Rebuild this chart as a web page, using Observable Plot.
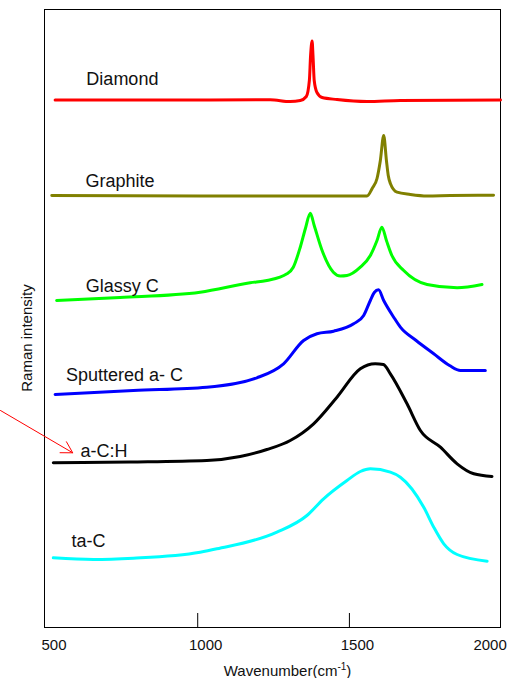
<!DOCTYPE html>
<html>
<head>
<meta charset="utf-8">
<script src="https://cdn.jsdelivr.net/npm/d3@7"></script>
<script src="https://cdn.jsdelivr.net/npm/@observablehq/plot@0.6"></script>
<style>
  html, body { margin: 0; padding: 0; background: #fff; }
  svg { font-family: "Liberation Sans", Arial, sans-serif; }
</style>
</head>
<body>
<div id="chart"></div>
<script>
// Series names and colours (top to bottom)
const names = ["Diamond", "Graphite", "Glassy C", "Sputtered a- C", "a-C:H", "ta-C"];
const colors = ["#ff0000", "#808000", "#00ff00", "#0000ff", "#000000", "#00ffff"];

// Each series: [wavenumber (cm-1), Raman intensity (arbitrary, offset for display)]
const diamond = [[530,527.5],[843,527.5],[1239,527.7],[1305,526],[1338,527],[1358,531],[1368,547],[1372,572],[1377,586.5],[1380,572],[1384,547],[1393,535],[1410,530],[1459,528],[1558,526],[1668,527],[1998,527.5]];
const graphite = [[519,432],[1008,431.5],[1558,431.5],[1575,439],[1591,449],[1602,467],[1613,492],[1622,467],[1628,452],[1635,444],[1657,435.3],[1701,433],[1756,431.5],[1833,432],[1975,432.3]];
const glassyC = [[535,327],[744,330],[1008,335.3],[1173,344.7],[1228,347],[1294,353.7],[1315,360.3],[1338,380.3],[1355,399],[1371,414.3],[1384,402],[1410,377],[1447,355.3],[1470,351.5],[1492,352],[1536,360.3],[1569,372],[1591,387],[1607,400.3],[1622,387],[1640,372],[1679,357],[1756,343],[1855,339.7],[1937,343]];
const sputtered = [[530,233],[788,237],[1030,240.3],[1195,249.7],[1283,263.7],[1349,287],[1393,293.7],[1448,296.3],[1514,303.7],[1547,312],[1569,327],[1582,335],[1596,337.7],[1613,327],[1646,310.3],[1668,300.3],[1720,287],[1778,273.7],[1830,262],[1866,257],[1948,257]];
const aCH = [[524,164.7],[777,165.5],[1030,167],[1140,171],[1228,178],[1305,187],[1382,203.7],[1459,230.3],[1536,258.7],[1585,263.7],[1612,263],[1635,253.7],[1690,223.7],[1734,197],[1800,180.3],[1855,163.7],[1910,153.7],[1970,151]];
const taC = [[524,69.7],[656,68],[788,69.3],[1008,75.3],[1063,78.7],[1261,95.3],[1360,112],[1415,128.7],[1492,147],[1536,156],[1569,158.7],[1635,155.3],[1668,150.3],[1745,120.3],[1778,100.3],[1811,83.7],[1855,73],[1954,66.3]];
const seriesValues = [diamond, graphite, glassyC, sputtered, aCH, taC];

// Curve label anchors (wavenumber, intensity at text baseline)
const labelWn = [633, 630, 631, 566, 614, 584];
const labelI = [542.5, 441, 336, 246.5, 171, 80.3];

// Tick labels
const tickLabels = [500, 1000, 1500, 2000];
const innerTicks = [1000, 1500];

// Annotation arrow (from, to)
const arrowFrom = [350, 217];
const arrowTo = [588, 174.7];

const xTitle = "Wavenumber(cm-1)";
const yTitle = "Raman intensity";

const rows = seriesValues.flatMap((s, k) => s.map(([wn, I]) => ({name: names[k], wn, I})));
const labels = names.map((n, k) => ({name: n, wn: labelWn[k], I: labelI[k]}));
const fmt = d3.format("d");

const svg = Plot.plot({
  width: 507,
  height: 678,
  marginLeft: 44,
  marginRight: 7,
  marginTop: 9,
  marginBottom: 51,
  style: {background: "#fff", fontFamily: "Liberation Sans, Arial, sans-serif"},
  x: {domain: [495, 1998], label: null},
  y: {domain: [0, 618], axis: null},
  color: {domain: names, range: colors},
  marks: [
    Plot.frame({stroke: "#000", strokeWidth: 1}),
    Plot.axisX({ticks: innerTicks, tickSize: 14, dy: -14, tickFormat: () => "", label: null}),
    Plot.axisX({ticks: tickLabels.filter(t => t < 2000), tickSize: 0, tickPadding: 12, dx: 8, fontSize: 15, tickFormat: fmt, label: null, fill: "#111"}),
    Plot.axisX({ticks: tickLabels.filter(t => t >= 2000), tickSize: 0, tickPadding: 12, dx: -11, fontSize: 15, tickFormat: fmt, label: null, fill: "#111"}),
    Plot.line(rows, {x: "wn", y: "I", z: "name", stroke: "name", strokeWidth: 3, curve: "monotone-x"}),
    Plot.text(labels, {x: "wn", y: "I", text: "name", textAnchor: "start", lineAnchor: "bottom", fontSize: 18, fill: "#111"}),
    Plot.arrow([{x1: arrowFrom[0], y1: arrowFrom[1], x2: arrowTo[0], y2: arrowTo[1]}],
      {x1: "x1", y1: "y1", x2: "x2", y2: "y2", stroke: "#ff0000", strokeWidth: 1, headLength: 19, headAngle: 60}),
    Plot.text([{t: yTitle, y: 289.5}], {text: "t", y: "y", frameAnchor: "left", textAnchor: "middle", lineAnchor: "middle", dx: -17, rotate: -90, fontSize: 15, fill: "#111"}),
    Plot.text([{t: xTitle, x: 1296}], {text: "t", x: "x", frameAnchor: "bottom", textAnchor: "middle", dy: 48, lineAnchor: "bottom", fontSize: 15, fill: "#111"})
  ]
});

// superscript for cm-1
d3.select(svg).selectAll("text").filter(function () { return this.textContent === xTitle; })
  .each(function () {
    const t = d3.select(this);
    t.text(null);
    t.append("tspan").text("Wavenumber(cm");
    t.append("tspan").attr("font-size", 10).attr("dy", -6).text("-1");
    t.append("tspan").attr("dy", 6).text(")");
  });

document.getElementById("chart").appendChild(svg);
</script>
</body>
</html>
